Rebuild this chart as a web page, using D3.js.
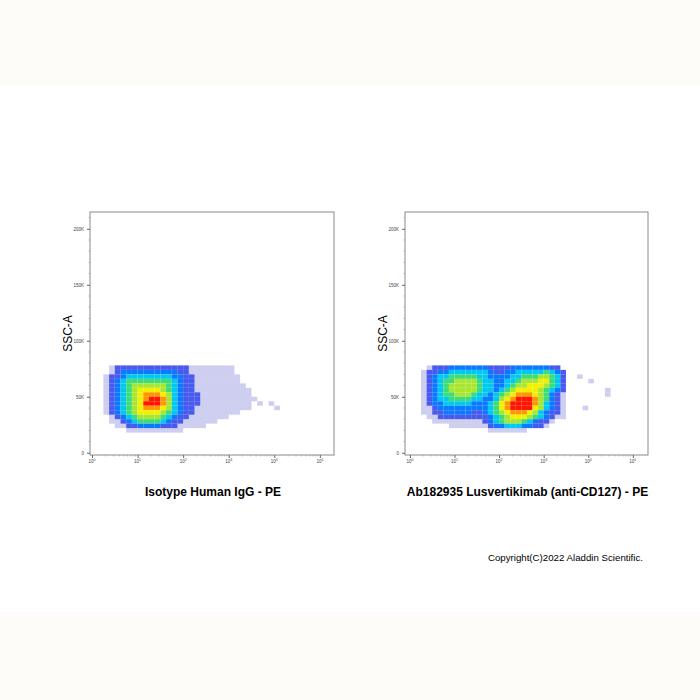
<!DOCTYPE html>
<html><head><meta charset="utf-8">
<script src="https://cdn.jsdelivr.net/npm/d3@7"></script>
<style>body{margin:0;background:#fff}</style></head>
<body><svg id="c" width="700" height="700"></svg>
<script>
// Density grid: columns = log10(PE) bins of 0.125 decade starting at 0; rows = SSC-A bins of 4K from 78K downward
const xBinStart = 0, xBinStep = 0.125;
const yBinTop = 78000, yBinStep = 4000;
const yTicks = [0, 50000, 100000, 150000, 200000];
const yTickLabels = ["0", "50K", "100K", "150K", "200K"];
const xTickExps = [0, 1, 2, 3, 4, 5];
const panelTitles = ["Isotype Human IgG - PE", "Ab182935 Lusvertikimab (anti-CD127) - PE"];
const isotypeGrid = [
"0001222222222222211111111000000000",
"0001233333333332211111111000000000",
"0012234444444433221111111100000000",
"0012345555555543221111111100000000",
"0012345666666543221111111110000000",
"0012345677776543221111111111000000",
"0012345678887643222111111111000000",
"0012345678998643222111111111100000",
"0012345679998643222111111111010100",
"0012345678887643221111111111000010",
"0012345677776543221111111100000000",
"0001234566665432211111110000000000",
"0001123455554322111111000000000000",
"0000112233332221111100000000000000",
"0000001111111111000000000000000000"];
const antibodyGrid = [
"000122233333332222333333322000000000",
"001223344444443223344444543200000000",
"001234455555443333445556654200100000",
"001234556666544334456667754200001000",
"001234566666544334566777654200000000",
"001234566666544345677776543200000001",
"001234556665443456788876532100000001",
"001234455554433467899986532100000000",
"001233444443334578999986432100000000",
"001123333333334578999976432100010000",
"001122333332234567888764322100000000",
"000112222222223456777654321100000000",
"000011111111123456665432210000000000",
"000000011111112334443322100000000000",
"000000000000001111111000000000000000"];
const levelColors = ["none","#2020c0","#1a30e8","#0a78ff","#00c8f0","#3cdc78","#a8e632","#f0f000","#ff9600","#ff1400"];
const levelOpacity = [0,0.22,0.8,1,1,1,1,1,1,1];

const svg = d3.select("#c");
svg.append("rect").attr("width",700).attr("height",85).attr("fill","#fdfcf9");
svg.append("rect").attr("y",612).attr("width",700).attr("height",88).attr("fill","#fdfcf9");
const panels = [
  {grid: isotypeGrid, x0: 90, x1: 334, xd: [Math.pow(10,-0.044), Math.pow(10,5.31)], title: panelTitles[0]},
  {grid: antibodyGrid, x0: 405, x1: 648, xd: [Math.pow(10,-0.11), Math.pow(10,5.34)], title: panelTitles[1]}
];
const yTop = 212, yBot = 455;
panels.forEach(p => {
  const x = d3.scaleLog().domain(p.xd).range([p.x0, p.x1]);
  const y = d3.scaleLinear().domain([-2000, 215000]).range([yBot, yTop]);
  const g = svg.append("g");
  const cells = [];
  p.grid.forEach((row, r) => row.split("").forEach((ch, c) => {
    const v = +ch; if (v > 0) cells.push({r, c, v});
  }));
  g.selectAll("rect.cell").data(cells).join("rect")
    .attr("x", d => x(Math.pow(10, xBinStart + d.c * xBinStep)))
    .attr("width", d => x(Math.pow(10, xBinStart + (d.c + 1) * xBinStep)) - x(Math.pow(10, xBinStart + d.c * xBinStep)))
    .attr("y", d => y(yBinTop - d.r * yBinStep))
    .attr("height", d => y(yBinTop - (d.r + 1) * yBinStep) - y(yBinTop - d.r * yBinStep))
    .attr("fill", d => levelColors[d.v]).attr("fill-opacity", d => levelOpacity[d.v]);
  g.append("rect").attr("x", p.x0).attr("y", yTop).attr("width", p.x1 - p.x0).attr("height", yBot - yTop)
    .attr("fill", "none").attr("stroke", "#8a8a8a").attr("stroke-width", 1);
  const ya = g.append("g").attr("transform", `translate(${p.x0},0)`)
    .call(d3.axisLeft(y).tickValues(yTicks).tickFormat((d,i) => yTickLabels[i]).tickSize(3));
  ya.select(".domain").remove();
  ya.selectAll("text").attr("font-size", 4.5).attr("fill", "#444").attr("font-family", "Arial, Liberation Sans");
  ya.selectAll("line").attr("stroke", "#666");
  const minorY = d3.range(10000, 215000, 10000).filter(v => v % 50000);
  g.selectAll("line.my").data(minorY).join("line").attr("x1", p.x0 - 1.5).attr("x2", p.x0)
    .attr("y1", d => y(d)).attr("y2", d => y(d)).attr("stroke", "#999").attr("stroke-width", 0.6);
  const xa = g.append("g").attr("transform", `translate(0,${yBot})`)
    .call(d3.axisBottom(x).tickValues(xTickExps.map(e => Math.pow(10, e))).tickFormat("").tickSize(3));
  xa.select(".domain").remove();
  xa.selectAll("line").attr("stroke", "#666");
  const minorX = [];
  for (let e = 0; e < 5; e++) for (let k = 2; k < 10; k++) minorX.push(k * Math.pow(10, e));
  g.selectAll("line.mx").data(minorX).join("line").attr("y1", yBot).attr("y2", yBot + 1.5)
    .attr("x1", d => x(d)).attr("x2", d => x(d)).attr("stroke", "#999").attr("stroke-width", 0.6);
  xTickExps.forEach(e => {
    const t = g.append("text").attr("x", x(Math.pow(10, e))).attr("y", yBot + 8)
      .attr("text-anchor", "middle").attr("font-size", 4.5).attr("fill", "#444").attr("font-family", "Arial, Liberation Sans");
    t.append("tspan").text("10");
    t.append("tspan").attr("dy", -2).attr("font-size", 3.5).text(e);
  });
  svg.append("text").attr("transform", `translate(${p.x0 - 18},${(yTop + yBot) / 2}) rotate(-90)`)
    .attr("text-anchor", "middle").attr("font-size", 12).attr("font-family", "Arial, Liberation Sans").text("SSC-A");
  svg.append("text").attr("x", (p.x0 + p.x1) / 2 + 1).attr("y", 496).attr("text-anchor", "middle")
    .attr("font-size", 12).attr("font-weight", "bold").attr("font-family", "Arial, Liberation Sans").text(p.title);
});
svg.append("text").attr("x", 643).attr("y", 561).attr("text-anchor", "end").attr("font-size", 9.7)
  .attr("font-family", "Arial, Liberation Sans").text("Copyright(C)2022 Aladdin Scientific.");
</script></body></html>
